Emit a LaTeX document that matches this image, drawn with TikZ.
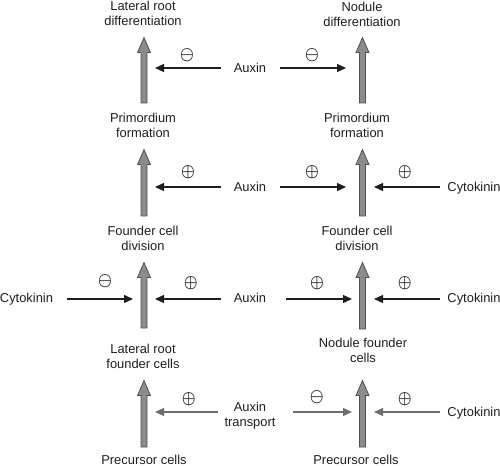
\documentclass[tikz,border=0pt]{standalone}
\usepackage{fontspec}
\usepackage{graphicx}
\setmainfont{Liberation Sans}
\usetikzlibrary{arrows.meta, calc}

\definecolor{stemfill}{HTML}{8C8C8C}
\definecolor{stemline}{HTML}{4F4F4F}
\definecolor{ink}{HTML}{1E1E1E}
\definecolor{faint}{HTML}{6E6E6E}

\newcommand{\inhib}{\scalebox{0.9}[1]{\boldmath$\ominus$}}
\newcommand{\promo}{\scalebox{0.9}[1]{\boldmath$\oplus$}}

\tikzset{
    tail gap/.store in=\tailgap, tail gap=10bp,
    head gap/.store in=\headgap, head gap=11.4bp
}

\begin{document}
\begin{tikzpicture}
            [
            x=1bp, y=-1bp,
            stage/.style={
                align=center,
                inner sep=0pt,
                anchor=north,
                text=ink,
                font=\fontsize{12.9bp}{15.3bp}\selectfont
            },
            hormone/.style={
                stage
            },
            sign/.style={
                inner sep=0pt,
                text=ink,
                font=\fontsize{18bp}{18bp}\selectfont
            },
            effect/.style={
                draw=ink,
                line width=1.2bp,
                -{Triangle[length=9bp, width=8bp]}
            },
            weak/.style={
                draw=faint
            },
            growth/.style={
                draw=stemline,
                fill=stemfill,
                line width=0.8bp,
                to path={
                    let \p1=(\tikztostart), \p2=(\tikztotarget) in
                    (\x1-3bp,\y1+\tailgap) -- (\x1-3bp,\y2-\headgap-15bp)
                    -- (\x1-6.5bp,\y2-\headgap-15bp) -- (\x1,\y2-\headgap)
                    -- (\x1+6.5bp,\y2-\headgap-15bp) -- (\x1+3bp,\y2-\headgap-15bp)
                    -- (\x1+3bp,\y1+\tailgap) -- cycle
                }
            }
            ]
            \useasboundingbox (0,0) rectangle (500,466);

            % columns of the two pathways
            \coordinate (colL) at (144,0);
            \coordinate (colR) at (362.5,0);

            % lateral root stages
            \node (ldiff) [stage] at (143,1) {Lateral root\\differentiation};
            \node (lprim) [stage] at (143,113) {Primordium\\formation};
            \node (lfcd) [stage] at (143,226) {Founder cell\\division};
            \node (lfc) [stage] at (143,344) {Lateral root\\founder cells};
            \node (lpre) [stage] at (144,455) {Precursor cells};

            % nodule stages
            \node (ndiff) [stage] at (362,2) {Nodule\\differentiation};
            \node (nprim) [stage] at (357,113) {Primordium\\formation};
            \node (nfcd) [stage] at (357,226) {Founder cell\\division};
            \node (nfc) [stage] at (363,338) {Nodule founder\\cells};
            \node (npre) [stage] at (356,455) {Precursor cells};

            % block arrows between stages
            \draw[growth, tail gap=8bp] (lpre.north -| colL) to (lfc.south -| colL);
            \draw[growth, tail gap=16bp] (lfc.north -| colL) to (lfcd.south -| colL);
            \draw[growth] (lfcd.north -| colL) to (lprim.south -| colL);
            \draw[growth] (lprim.north -| colL) to (ldiff.south -| colL);
            \draw[growth, tail gap=8bp, head gap=17.4bp] (npre.north -| colR) to (nfc.south -| colR);
            \draw[growth, tail gap=9bp] (nfc.north -| colR) to (nfcd.south -| colR);
            \draw[growth] (nfcd.north -| colR) to (nprim.south -| colR);
            \draw[growth, head gap=10.4bp] (nprim.north -| colR) to (ndiff.south -| colR);

            % hormones
            \node (aux1) [hormone] at (250,63) {Auxin};
            \node (aux2) [hormone] at (250,182) {Auxin};
            \node (cyt2) [hormone] at (474,182) {Cytokinin};
            \node (cytl3) [hormone] at (26.5,293) {Cytokinin};
            \node (aux3) [hormone] at (250,293) {Auxin};
            \node (cyt3) [hormone] at (474,293) {Cytokinin};
            \node (auxt) [hormone] at (250,402) {Auxin\\transport};
            \node (cyt4) [hormone] at (474,407) {Cytokinin};

            % arrow ends at the block arrows
            \coordinate (tL1) at (155,68);
            \coordinate (tR1) at (346,68);
            \coordinate (tL2) at (155,187);
            \coordinate (tR2) at (346,187);
            \coordinate (tC2) at (374,187);
            \coordinate (tCL3) at (133,299);
            \coordinate (tL3) at (155,299);
            \coordinate (tR3) at (352,299);
            \coordinate (tC3) at (374,299);
            \coordinate (tL4) at (155,412);
            \coordinate (tR4) at (352,412);
            \coordinate (tC4) at (374,412);

            % effects of the hormones
            \draw[effect, shorten <=12.9bp] (aux1.west |- tL1) -- node[sign, pos=0.594, yshift=13bp] {\inhib} (tL1);
            \draw[effect, shorten <=13.9bp] (aux1.east |- tR1) -- node[sign, pos=0.574, yshift=13bp] {\inhib} (tR1);
            \draw[effect, shorten <=12.9bp] (aux2.west |- tL2) -- node[sign, pos=0.58, yshift=15bp] {\promo} (tL2);
            \draw[effect, shorten <=13.9bp] (aux2.east |- tR2) -- node[sign, pos=0.574, yshift=15bp] {\promo} (tR2);
            \draw[effect, shorten <=7.5bp] (cyt2.west |- tC2) -- node[sign, pos=0.578, yshift=15bp] {\promo} (tC2);
            \draw[effect, shorten <=14bp] (cytl3.east |- tCL3) -- node[sign, pos=0.65, yshift=18bp] {\inhib} (tCL3);
            \draw[effect, shorten <=12.9bp] (aux3.west |- tL3) -- node[sign, pos=0.544, yshift=16bp] {\promo} (tL3);
            \draw[effect, shorten <=19.9bp] (aux3.east |- tR3) -- node[sign, pos=0.593, yshift=16bp] {\promo} (tR3);
            \draw[effect, shorten <=7.5bp] (cyt3.west |- tC3) -- node[sign, pos=0.578, yshift=16bp] {\promo} (tC3);
            \draw[effect, weak, shorten <=6.5bp] (auxt.west |- tL4) -- node[sign, pos=0.511, yshift=13bp] {\promo} (tL4);
            \draw[effect, weak, shorten <=17.5bp] (auxt.east |- tR4) -- node[sign, pos=0.54, yshift=15bp] {\inhib} (tR4);
            \draw[effect, weak, shorten <=7.5bp] (cyt4.west |- tC4) -- node[sign, pos=0.578, yshift=13bp] {\promo} (tC4);

        \end{tikzpicture}
\end{document}
